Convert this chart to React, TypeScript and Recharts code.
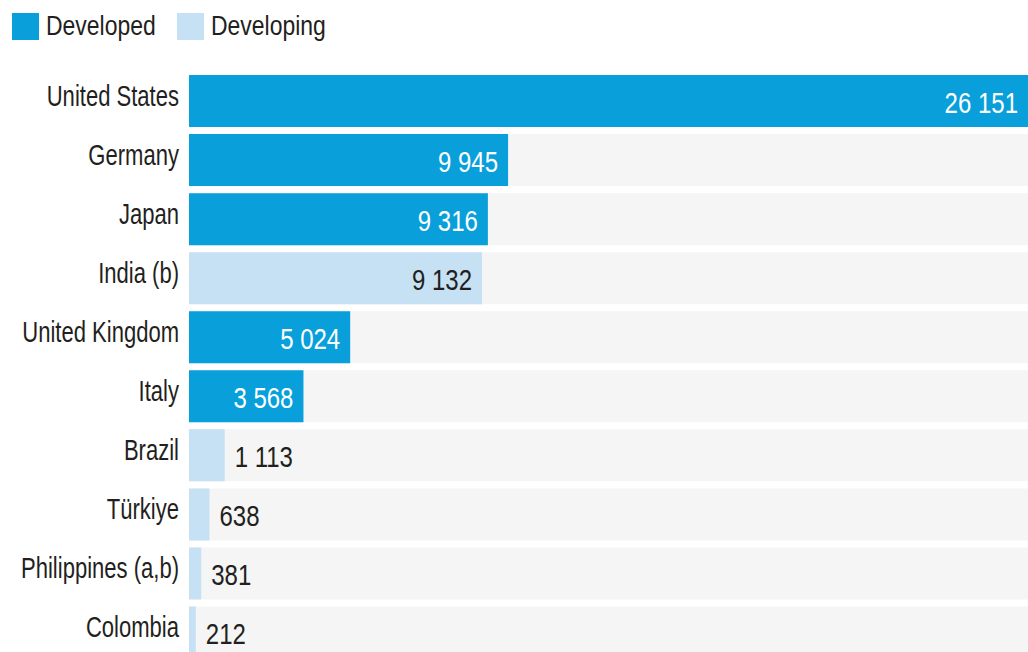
import React from 'react';
import { BarChart, Bar, XAxis, YAxis, Cell, LabelList } from 'recharts';

const countries = ['United States', 'Germany', 'Japan', 'India (b)', 'United Kingdom', 'Italy', 'Brazil', 'Türkiye', 'Philippines (a,b)', 'Colombia'];
const values = [26151, 9945, 9316, 9132, 5024, 3568, 1113, 638, 381, 212];
const groups = ['Developed', 'Developed', 'Developed', 'Developing', 'Developed', 'Developed', 'Developing', 'Developing', 'Developing', 'Developing'];
const legendItems = ['Developed', 'Developing'];

const COLORS: Record<string, string> = { Developed: '#089fdb', Developing: '#c6e1f4' };
const FONT = '"Liberation Sans", Arial, sans-serif';
const SX = 0.8; // squeeze to look like a condensed face

const data = countries.map((name, i) => ({ name, value: values[i], group: groups[i] }));

const fmt = (v: number) => v.toString().replace(/\B(?=(\d{3})+(?!\d))/g, ' ');

const NarrowText: React.FC<any> = ({ x, y, anchor, size, fill, sx = SX, children }) => (
    <text
        transform={`translate(${x},${y}) scale(${sx},1)`}
        textAnchor={anchor}
        fontSize={size}
        fontFamily={FONT}
        fill={fill}
    >
        {children}
    </text>
);

const CountryTick: React.FC<any> = ({ x, y, payload }) => (
    <NarrowText x={x} y={y + 5} anchor="end" size={29} fill="#231f20" sx={0.76}>
        {payload.value}
    </NarrowText>
);

const ValueLabel: React.FC<any> = ({ x, y, width, height, value, index }) => {
    const inside = value > 3000;
    const dev = data[index].group === 'Developed';
    return (
        <NarrowText
            x={inside ? x + width - 10 : x + width + 10}
            y={y + height / 2 + 12}
            anchor={inside ? 'end' : 'start'}
            size={30}
            fill={inside && dev ? '#ffffff' : '#231f20'}
        >
            {fmt(value)}
        </NarrowText>
    );
};

export default function App() {
    return (
        <div style={{ position: 'absolute', left: 0, top: 0, width: 1028, height: 652, overflow: 'hidden', background: '#fff' }}>
            <svg width={1028} height={60} style={{ position: 'absolute', left: 0, top: 0 }}>
                {legendItems.map((k, i) => {
                    const x0 = i === 0 ? 12 : 177;
                    return (
                        <g key={k}>
                            <rect x={x0} y={13} width={27} height={27} fill={COLORS[k]} />
                            <NarrowText x={x0 + 34} y={35} anchor="start" size={28} fill="#231f20" sx={0.82}>
                                {k}
                            </NarrowText>
                        </g>
                    );
                })}
            </svg>
            <BarChart
                width={1028}
                height={662}
                data={data}
                layout="vertical"
                margin={{ top: 71.5, right: 0, left: 0, bottom: 0 }}
                barCategoryGap="6%"
                style={{ position: 'absolute', left: 0, top: 0 }}
            >
                <XAxis type="number" hide domain={[0, 26151]} />
                <YAxis
                    type="category"
                    dataKey="name"
                    width={189}
                    axisLine={false}
                    tickLine={false}
                    tickSize={0}
                    tickMargin={10}
                    tick={<CountryTick />}
                />
                <Bar dataKey="value" background={{ fill: '#f5f5f5' }} isAnimationActive={false}>
                    {data.map((d, i) => (
                        <Cell key={i} fill={COLORS[d.group]} />
                    ))}
                    <LabelList dataKey="value" content={<ValueLabel />} />
                </Bar>
            </BarChart>
        </div>
    );
}
